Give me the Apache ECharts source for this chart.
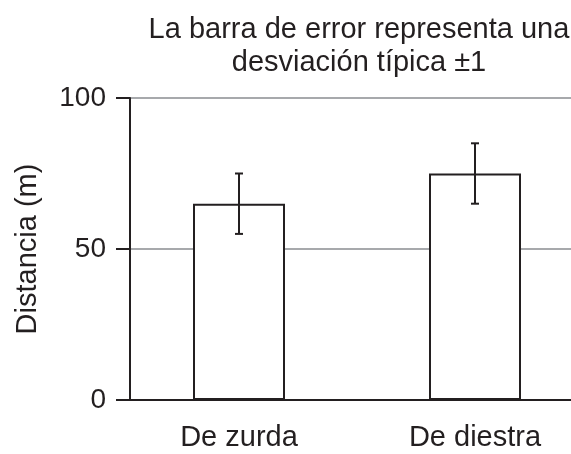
<!DOCTYPE html>
<html>
<head>
<meta charset="utf-8">
<script src="https://cdn.jsdelivr.net/npm/echarts@6/dist/echarts.min.js"></script>
<style>
  html, body { margin: 0; padding: 0; background: #fff; }
  #chart { width: 571px; height: 454px; }
</style>
</head>
<body>
<div id="chart"></div>
<script>
// datos
const categories = ['De zurda', 'De diestra']
const means = [65, 75]
const errLow = [55, 65]    // media - 1 DT
const errHigh = [75, 85]   // media + 1 DT
const yTicks = [0, 50, 100]

const ink = '#231f20'
const font = 'Liberation Sans'
const chart = echarts.init(document.getElementById('chart'))

chart.setOption({
  animation: false,
  title: {
    text: 'La barra de error representa una\ndesviación típica ±1',
    left: 354,
    top: 8,
    textAlign: 'center',
    textStyle: {
      fontFamily: font,
      fontSize: 29,
      fontWeight: 'normal',
      color: ink,
      lineHeight: 33
    }
  },
  // el área se alarga a la derecha fuera del lienzo, como en el original
  grid: { left: 121, width: 472, top: 98, bottom: 54, outerBoundsMode: 'none' },
  xAxis: {
    type: 'category',
    data: categories,
    axisLine: { lineStyle: { color: ink, width: 2 } },
    axisTick: { show: false },
    axisLabel: {
      margin: 23,
      fontFamily: font,
      fontSize: 29,
      color: ink
    }
  },
  yAxis: {
    type: 'value',
    min: yTicks[0],
    max: yTicks[yTicks.length - 1],
    interval: 50,
    offset: -9,
    name: 'Distancia (m)',
    nameLocation: 'middle',
    nameGap: 88,
    nameTextStyle: {
      fontFamily: font,
      fontSize: 29,
      color: ink
    },
    axisLine: { show: true, lineStyle: { color: ink, width: 2 } },
    axisTick: { show: true, length: 14, lineStyle: { color: ink, width: 2 } },
    axisLabel: {
      margin: 24,
      fontFamily: font,
      fontSize: 28,
      color: ink
    },
    splitLine: { show: true, lineStyle: { color: '#a7a9ac', width: 2 } }
  },
  series: [
    {
      type: 'bar',
      data: means,
      barWidth: 92,
      itemStyle: { color: '#fff', borderColor: ink, borderWidth: 2 },
      z: 2
    },
    {
      type: 'custom',
      z: 3,
      data: categories.map((c, i) => [i, errLow[i], errHigh[i]]),
      renderItem: (params, api) => {
        const lo = api.coord([api.value(0), api.value(1)])
        const hi = api.coord([api.value(0), api.value(2)])
        const half = 4
        const style = { stroke: ink, lineWidth: 2 }
        return {
          type: 'group',
          children: [
            { type: 'line', shape: { x1: hi[0], y1: hi[1], x2: lo[0], y2: lo[1] }, style },
            { type: 'line', shape: { x1: hi[0] - half, y1: hi[1], x2: hi[0] + half, y2: hi[1] }, style },
            { type: 'line', shape: { x1: lo[0] - half, y1: lo[1], x2: lo[0] + half, y2: lo[1] }, style }
          ]
        }
      }
    }
  ]
})
</script>
</body>
</html>
